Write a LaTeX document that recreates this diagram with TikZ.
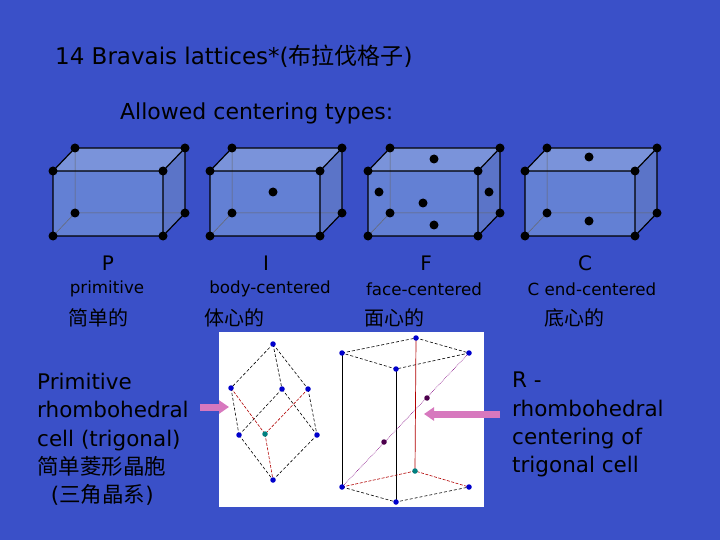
\documentclass[tikz,border=0pt]{standalone}
\usepackage{fontspec}
\setmainfont{DejaVu Sans}
\newfontfamily\cjk{Noto Sans CJK SC}
\usetikzlibrary{arrows.meta}
\begin{document}
\begin{tikzpicture}[x=1pt,y=-1pt,
  lbl/.style={anchor=west,inner sep=0pt,text=black},
  dot/.style={circle,fill=black,inner sep=0pt,minimum size=9pt},
  bdot/.style={circle,fill=blue!80!black,inner sep=0pt,minimum size=5.5pt},
  edge/.style={black,line width=1.2pt},
  hid/.style={black!60,line width=0.5pt},
  kdash/.style={black,dash pattern=on 3pt off 2pt,line width=0.6pt},
  rdash/.style={red!70!black,dash pattern=on 3pt off 1.5pt,line width=0.6pt},
  parrow/.style={line width=7pt,-{Triangle[length=10pt,width=13pt]},draw={rgb,255:red,215;green,120;blue,190}}]
\fill[fill={rgb,255:red,58;green,80;blue,200}] (0,0) rectangle (720,540);
\useasboundingbox (0,0) rectangle (720,540);
\node[lbl,font=\fontsize{23}{26}\selectfont] (title) at (55,56) {14 Bravais lattices*({\cjk 布拉伐格子})};
\node[lbl,font=\fontsize{22}{26}\selectfont] (allowed) at (120,113) {Allowed centering types:};
\foreach \x/\n in {53/P,210/I,368/F,525/C}{
  \coordinate (\n a) at (\x,171); \coordinate (\n b) at (\x+110,171);
  \coordinate (\n c) at (\x+110,236); \coordinate (\n d) at (\x,236);
  \coordinate (\n e) at (\x+22,148); \coordinate (\n f) at (\x+132,148);
  \coordinate (\n g) at (\x+132,213); \coordinate (\n h) at (\x+22,213);
  \fill[fill={rgb,255:red,110;green,140;blue,215},opacity=0.8] (\n a)--(\n b)--(\n c)--(\n d)--cycle;
  \fill[fill={rgb,255:red,130;green,155;blue,220},opacity=0.9] (\n a)--(\n e)--(\n f)--(\n b)--cycle;
  \fill[fill={rgb,255:red,95;green,120;blue,200},opacity=0.9] (\n b)--(\n f)--(\n g)--(\n c)--cycle;
  \draw[hid] (\n e)--(\n h)--(\n g) (\n h)--(\n d);
  \draw[edge] (\n a)--(\n b)--(\n c)--(\n d)--cycle (\n a)--(\n e)--(\n f)--(\n b) (\n f)--(\n g)--(\n c);
  \foreach \p in {a,b,c,d,e,f,g,h}{\node[dot] at (\n\p) {};}
}
\node[dot] (Ic) at (273,192) {};
\node[dot] (F1) at (434,159) {};
\node[dot] (F2) at (379,192) {};
\node[dot] (F3) at (489,192) {};
\node[dot] (F4) at (423,203) {};
\node[dot] (F5) at (434,225) {};
\node[dot] (C1) at (589,157) {};
\node[dot] (C2) at (589,221) {};
\node[font=\fontsize{20}{22}\selectfont] (lP) at (108,263) {P};
\node[font=\fontsize{20}{22}\selectfont] (lI) at (266,263) {I};
\node[font=\fontsize{20}{22}\selectfont] (lF) at (426,263) {F};
\node[font=\fontsize{20}{22}\selectfont] (lC) at (585,263) {C};
\node[font=\fontsize{16.7}{18}\selectfont] (tP) at (107,289) {primitive};
\node[font=\fontsize{16.7}{18}\selectfont] (tI) at (270,289) {body-centered};
\node[font=\fontsize{16.7}{18}\selectfont] (tF) at (424,289) {face-centered};
\node[font=\fontsize{16.7}{18}\selectfont] (tC) at (592,289) {C end-centered};
\node[font=\cjk\fontsize{20}{22}\selectfont] (cP) at (98,318) {简单的};
\node[font=\cjk\fontsize{20}{22}\selectfont] (cI) at (234,318) {体心的};
\node[font=\cjk\fontsize{20}{22}\selectfont] (cF) at (394,318) {面心的};
\node[font=\cjk\fontsize{20}{22}\selectfont] (cC) at (574,318) {底心的};
\node[lbl,font=\fontsize{21.5}{28.3}\selectfont,align=left,anchor=north west] (left) at (37,373)
 {Primitive\\rhombohedral\\cell (trigonal)\\{\cjk 简单菱形晶胞}\\\ \ ({\cjk 三角晶系})};
\node[lbl,font=\fontsize{21.5}{28.3}\selectfont,align=left,anchor=north west] (right) at (512,372)
 {R -\\rhombohedral\\centering of\\trigonal cell};
\fill[white] (219,332) rectangle (484,507);
\coordinate (rt) at (273,344); \coordinate (rul) at (231,388); \coordinate (rum) at (282,389);
\coordinate (rur) at (308,389); \coordinate (rll) at (239,435); \coordinate (rc) at (265,434);
\coordinate (rlr) at (317,435); \coordinate (rb) at (273,480);
\draw[kdash] (rt)--(rul) (rt)--(rum) (rt)--(rur) (rul)--(rll) (rur)--(rlr) (rum)--(rll) (rum)--(rlr) (rll)--(rb) (rlr)--(rb);
\draw[rdash] (rul)--(rc) (rur)--(rc) (rc)--(rb);
\foreach \p in {rt,rul,rum,rur,rll,rlr,rb}{\node[bdot] at (\p) {};}
\node[bdot,fill=teal] at (rc) {};
\coordinate (ta) at (342,353); \coordinate (tb) at (416,338); \coordinate (tc) at (469,353); \coordinate (td) at (396,369);
\coordinate (ba) at (342,487); \coordinate (bb) at (415,471); \coordinate (bc) at (469,487); \coordinate (bd) at (396,502);
\draw[kdash] (ta)--(tb)--(tc)--(td)--cycle (ba)--(bd)--(bc);
\draw[black,line width=0.8pt] (ta)--(ba) (td)--(bd);
\draw[red!70!black,line width=0.7pt] (tb)--(bb);
\draw[rdash] (ba)--(bb)--(bc);
\draw[violet,densely dotted,line width=0.6pt] (ba)--(tc);
\foreach \p in {ta,tb,tc,td,ba,bc,bd}{\node[bdot] at (\p) {};}
\node[bdot,fill=teal] at (bb) {};
\node[bdot,fill=violet!60!black] (m1) at (384,442) {};
\node[bdot,fill=violet!60!black] (m2) at (427,398) {};
\coordinate (a1s) at (200,407); \coordinate (a1e) at (229,407);
\coordinate (a2s) at (500,414); \coordinate (a2e) at (424,414);
\draw[parrow] (a1s)--(a1e);
\draw[parrow] (a2s)--(a2e);
\end{tikzpicture}
\end{document}
